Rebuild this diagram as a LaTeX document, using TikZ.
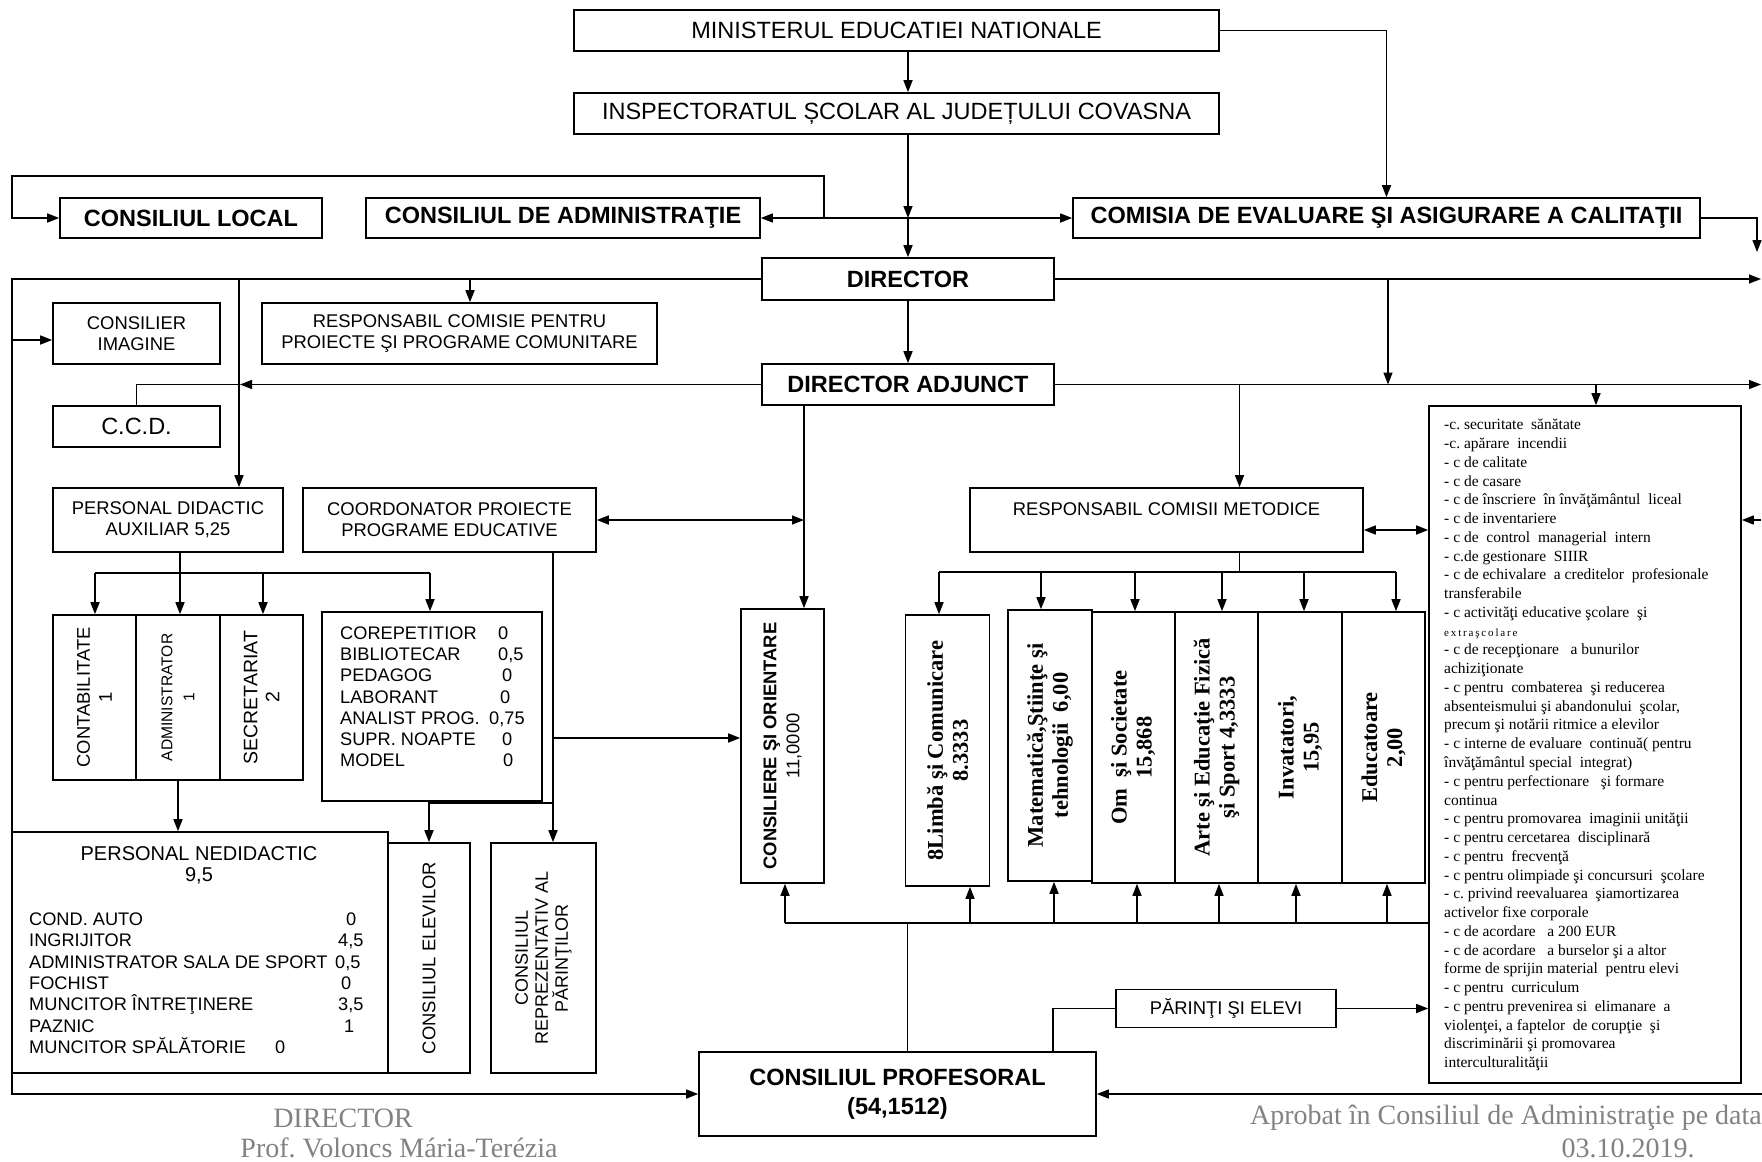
\documentclass[tikz,border=0pt]{standalone}
\usepackage{fontspec}
\setmainfont{Liberation Serif}
\setsansfont{Liberation Sans}
\newfontfamily\arialf{Liberation Sans}
\newfontfamily\timesf{Liberation Serif}
\usetikzlibrary{arrows.meta}
\definecolor{ftgray}{RGB}{130,130,130}
\newcommand{\fMain}{\arialf\fontsize{23.5}{27}\selectfont}
\newcommand{\fBold}{\arialf\bfseries\fontsize{23.5}{29}\selectfont}
\newcommand{\fSm}{\arialf\fontsize{18.4}{21}\selectfont}
\newcommand{\fLs}{\arialf\fontsize{18.2}{21}\selectfont}
\newcommand{\fTb}{\timesf\bfseries\fontsize{22.5}{25}\selectfont}
\newcommand{\fList}{\timesf\fontsize{15.5}{18.76}\selectfont}
\newcommand{\fFoot}{\timesf\fontsize{28}{30}\selectfont}
\begin{document}
\frenchspacing
\begin{tikzpicture}[x=1pt,y=-1pt,
  box/.style={draw, line width=1.6pt, inner sep=0pt, align=center},
  arr/.style={line width=1.5pt, -{Triangle[length=12pt,width=9pt]}},
  darr/.style={line width=1.5pt, {Triangle[length=12pt,width=9pt]}-{Triangle[length=12pt,width=9pt]}},
  ln/.style={line width=1.5pt},
  rot/.style={rotate=90, align=center, inner sep=0pt},
  txt/.style={inner sep=0pt, align=center}]
\fill[white] (0,0) rectangle (1762,1162);
\useasboundingbox (0,0) rectangle (1762,1162);

% ---------- boxes ----------
\node[box, minimum width=645pt, minimum height=41pt, font=\fMain] (MIN) at (896.5,30.5) {MINISTERUL EDUCATIEI NATIONALE};
\node[box, minimum width=645pt, minimum height=41pt, font=\fMain] (INSP) at (896.5,113.5) {INSPECTORATUL ȘCOLAR AL JUDEȚULUI COVASNA};
\node[box, minimum width=262pt, minimum height=40pt, font=\fBold] (CL) at (191,218) {CONSILIUL LOCAL};
\node[box, minimum width=394pt, minimum height=40pt, font=\fBold] (CA) at (563,218) {CONSILIUL DE ADMINISTRAŢIE};
\node[box, minimum width=627pt, minimum height=40pt, font=\fBold] (COM) at (1386.5,218) {COMISIA DE EVALUARE ŞI ASIGURARE A CALITAŢII};
\node[box, minimum width=292pt, minimum height=42pt, font=\fBold] (DIR) at (908,279) {DIRECTOR};
\node[box, minimum width=167pt, minimum height=61pt, font=\fSm] (CI) at (136.5,333.5) {CONSILIER\\IMAGINE};
\node[box, minimum width=395pt, minimum height=61pt, font=\fSm] (RC) at (459.5,333.5) {RESPONSABIL COMISIE PENTRU\\PROIECTE ŞI PROGRAME COMUNITARE};
\node[box, minimum width=292pt, minimum height=41pt, font=\fBold] (DA) at (908,384.5) {DIRECTOR ADJUNCT};
\node[box, minimum width=167pt, minimum height=41pt, font=\fMain] (CCD) at (136.5,426.5) {C.C.D.};
\node[box, minimum width=230pt, minimum height=64pt, font=\fSm] (PDA) at (168,520) {PERSONAL DIDACTIC\\AUXILIAR 5,25};
\node[box, minimum width=293pt, minimum height=64pt, font=\fSm] (CPP) at (449.5,520) {COORDONATOR PROIECTE\\PROGRAME EDUCATIVE};
\node[box, minimum width=393pt, minimum height=64pt] (RCM) at (1166.5,520) {};
\node[txt, font=\fSm] (RCMt) at (1166.5,509) {RESPONSABIL COMISII METODICE};

% list box
\node[box, minimum width=312pt, minimum height=677pt] (LST) at (1585,744.5) {};
\node[inner sep=0pt, align=left, anchor=north west, font=\fList] (LSTt) at (1444,419) {%
-c. securitate\ \ sănătate\\
-c. apărare\ \ incendii\\
- c de calitate\\
- c de casare\\
- c de înscriere\ \ în învăţământul\ \ liceal\\
- c de inventariere\\
- c de\ \ control\ \ managerial\ \ intern\\
- c.de gestionare\ \ SIIIR\\
- c de echivalare\ \ a creditelor\ \ profesionale\\
transferabile\\
- c activităţi educative şcolare\ \ şi\\
{\fontsize{11}{18.76}\selectfont e\,x\,t\,r\,a\,ş\,c\,o\,l\,a\,r\,e}\\
- c de recepţionare\ \ \ a bunurilor\\
achiziţionate\\
- c pentru\ \ combaterea\ \ şi reducerea\\
absenteismului şi abandonului\ \ şcolar,\\
precum şi notării ritmice a elevilor\\
- c interne de evaluare\ \ continuă( pentru\\
învăţământul special\ \ integrat)\\
- c pentru perfectionare\ \ \ şi formare\\
continua\\
- c pentru promovarea\ \ imaginii unităţii\\
- c pentru cercetarea\ \ disciplinară\\
- c pentru\ \ frecvenţă\\
- c pentru olimpiade şi concursuri\ \ şcolare\\
- c. privind reevaluarea\ \ şiamortizarea\\
activelor fixe corporale\\
- c de acordare\ \ \ a 200 EUR\\
- c de acordare\ \ \ a burselor şi a altor\\
forme de sprijin material\ \ pentru elevi\\
- c pentru\ \ curriculum\\
- c pentru prevenirea si\ \ elimanare\ \ a\\
violenţei, a faptelor\ \ de corupţie\ \ şi\\
discriminării şi promovarea\\
interculturalităţii};

% CONTAB group
\node[box, minimum width=83.5pt, minimum height=165pt] (CB1) at (94.5,697.5) {};
\node[box, minimum width=83.5pt, minimum height=165pt] (CB2) at (178,697.5) {};
\node[box, minimum width=83.5pt, minimum height=165pt] (CB3) at (261.5,697.5) {};
\node[rot, font=\arialf\fontsize{18.4}{22}\selectfont] (CB1t) at (CB1) {CONTABILITATE\\1};
\node[rot, font=\arialf\fontsize{15.6}{22}\selectfont] (CB2t) at (CB2) {ADMINISTRATOR\\1};
\node[rot, font=\arialf\fontsize{19.5}{22}\selectfont] (CB3t) at (CB3) {SECRETARIAT\\2};

% COREPETITIOR
\node[box, minimum width=220pt, minimum height=189pt] (CO) at (432,706.5) {};
\foreach \i/\nm/\nx/\nv in {1/COREPETITIOR/498/0,2/BIBLIOTECAR/498/{0,5},3/PEDAGOG/502/0,4/LABORANT/500/0,5/ANALIST PROG./489/{0,75},6/SUPR. NOAPTE/502/0,7/MODEL/503/0}{
  \node[anchor=base west, inner sep=0pt, font=\fLs] (cn\i) at (340,{639.5+21.2*(\i-1)}) {\nm};
  \node[anchor=base west, inner sep=0pt, font=\fLs] (cv\i) at (\nx,{639.5+21.2*(\i-1)}) {\nv};
}

% CONSILIERE
\node[box, minimum width=83pt, minimum height=274pt] (CSO) at (782.5,746) {};
\node[rot, font=\arialf\fontsize{18.4}{23}\selectfont] (CSOt) at (CSO) {\textbf{CONSILIERE ŞI ORIENTARE}\\11,0000};

% commissions
\node[box, minimum width=84pt, minimum height=271pt] (LIM) at (947.5,750.5) {};
\node[box, minimum width=84pt, minimum height=271pt] (MAT) at (1050,745.5) {};
\node[box, minimum width=83pt, minimum height=271pt] (OM) at (1133,747.5) {};
\node[box, minimum width=83pt, minimum height=271pt] (ART) at (1216.5,747.5) {};
\node[box, minimum width=83pt, minimum height=271pt] (INV) at (1300,747.5) {};
\node[box, minimum width=83pt, minimum height=271pt] (EDU) at (1383.5,747.5) {};
\node[rot, font=\fTb] (LIMt) at (LIM) {8Limbă şi Comunicare\\8.3333};
\node[rot, font=\fTb] (MATt) at (MAT) {Matematică,Ştiinţe şi\\tehnologii\ \ 6,00};
\node[rot, font=\fTb] (OMt) at (OM) {Om\ \ şi Societate\\15,868};
\node[rot, font=\fTb] (ARTt) at (ART) {Arte şi Educaţie Fizică\\şi Sport 4,3333};
\node[rot, font=\fTb] (INVt) at (INV) {Invatatori,\\15,95};
\node[rot, font=\fTb] (EDUt) at (EDU) {Educatoare\\2,00};

% personal nedidactic
\node[box, minimum width=376pt, minimum height=241pt] (PN) at (200,952.5) {};
\node[txt, font=\arialf\fontsize{20}{21}\selectfont] (PNt) at (199,865.5) {PERSONAL NEDIDACTIC\\9,5};
\foreach \i/\nm/\nx/\nv in {1/COND. AUTO/346/0,2/INGRIJITOR/338/{4,5},3/ADMINISTRATOR SALA DE SPORT/335/{0,5},4/FOCHIST/341/0,5/MUNCITOR ÎNTREŢINERE/338/{3,5},6/PAZNIC/344/1,7/MUNCITOR SPĂLĂTORIE/275/0}{
  \node[anchor=base west, inner sep=0pt, font=\fLs] (pn\i) at (29,{925.5+21.3*(\i-1)}) {\nm};
  \node[anchor=base west, inner sep=0pt, font=\fLs] (pv\i) at (\nx,{925.5+21.3*(\i-1)}) {\nv};
}
\node[box, minimum width=82pt, minimum height=230pt] (CE) at (429,958) {};
\node[rot, font=\fSm] (CEt) at (CE) {CONSILIUL ELEVILOR};
\node[box, minimum width=105pt, minimum height=230pt] (CR) at (543.5,958) {};
\node[rot, font=\arialf\fontsize{18}{20}\selectfont] (CRt) at (CR) {CONSILIUL\\REPREZENTATIV AL\\PĂRINŢILOR};

\node[box, minimum width=220pt, minimum height=38pt, font=\fSm] (PE) at (1226,1008.5) {PĂRINŢI ŞI ELEVI};
\node[box, minimum width=397pt, minimum height=84pt, font=\arialf\bfseries\fontsize{23.5}{29}\selectfont] (CPR) at (897.5,1094) {CONSILIUL PROFESORAL\\(54,1512)};

% footer
\node[txt, font=\fFoot, text=ftgray] (FD) at (343,1118) {DIRECTOR};
\node[txt, font=\fFoot, text=ftgray] (FP) at (399,1148) {Prof. Voloncs Mária-Terézia};
\node[txt, font=\fFoot, text=ftgray, anchor=east] (FA) at (1762,1118) {Aprobat în Consiliul de Administraţie pe data};
\node[txt, font=\fFoot, text=ftgray] (FDt) at (1628,1148) {03.10.2019.};

% ---------- connectors ----------
\draw[arr] (MIN.south -| DIR.north) -- (INSP.north -| DIR.north);
\draw[arr] (MIN.east) -| (COM.north);
\coordinate (x1) at (CA.east -| DIR.north);
\draw[arr] (INSP.south -| DIR.north) -- (x1);
\draw[arr] (x1) -- (DIR.north);
\draw[darr] (CA.east) -- (COM.west);
\coordinate (b1) at (824,218);
\coordinate (b2) at (824,176);
\coordinate (b3) at (12,176);
\coordinate (b4) at (12,218);
\draw[arr] (b1) -- (b2) -- (b3) -- (b4) -- (CL.west);
\coordinate (r1) at (1757,218);
\coordinate (r2) at (1757,252);
\draw[arr] (COM.east) -- (r1) -- (r2);
\coordinate (r3) at (1761,279);
\draw[arr] (DIR.east) -- (r3);
\coordinate (d1) at (1388,279);
\coordinate (d2) at (1388,384.5);
\draw[arr] (d1) -- (d2);
\draw[arr] (DIR.south) -- (DA.north);
\coordinate (r4) at (1761,384.5);
\draw[arr] (DA.east) -- (r4);
\coordinate (d3) at (1596,384.5);
\draw[arr] (d3) -- (d3 |- LST.north);
\coordinate (d4) at (1239.5,384.5);
\draw[arr] (d4) -- (d4 |- RCM.north);
\coordinate (d5) at (804,384.5);
\draw[arr] (d5 |- DA.south) -- (d5 |- CSO.north);

% left loop
\coordinate (l1) at (12,279);
\coordinate (l2) at (12,1094);
\draw[arr] (DIR.west) -- (l1) -- (l2) -- (CPR.west);
\coordinate (l3) at (239,279);
\draw[arr] (l3) -- (l3 |- PDA.north);
\coordinate (l4) at (470,279);
\draw[arr] (l4) -- (l4 |- RC.north);
\coordinate (l5) at (12,340);
\draw[arr] (l5) -- (l5 -| CI.west);
\coordinate (l6) at (240,384.5);
\draw[arr] (DA.west) -- (l6);
\draw[ln] (l6) -- (CCD.north |- l6) -- (CCD.north);

% coordinator
\coordinate (c1) at (804,520);
\draw[darr] (CPP.east) -- (c1);
\coordinate (c3) at (553,738);
\draw[arr] (CPP.south -| c3) -- (c3 |- CR.north);
\draw[arr] (c3) -- (c3 -| CSO.west);
\coordinate (c4) at (429,803);
\draw[arr] (CO.south -| c4) -- (c4 |- CE.north);
\draw[ln] (c4) -- (c4 -| c3);

% personal didactic auxiliar
\coordinate (p0) at (180,573);
\coordinate (p1) at (95,573);
\coordinate (p3) at (263,573);
\coordinate (p4) at (430,573);
\draw[ln] (PDA.south -| p0) -- (p0);
\draw[ln] (p1) -- (p4);
\draw[arr] (p1) -- (p1 |- CB1.north);
\draw[arr] (p0) -- (p0 |- CB2.north);
\draw[arr] (p3) -- (p3 |- CB3.north);
\draw[arr] (p4) -- (p4 |- CO.north);
\draw[arr] (CB2.south) -- (CB2.south |- PN.north);

% methodical commissions
\coordinate (m0) at (1239.5,572);
\coordinate (m1) at (939,572);
\coordinate (m6) at (1396,572);
\draw[ln] (RCM.south -| m0) -- (m0);
\draw[ln] (m1) -- (m6);
\foreach \xx/\bb in {939/LIM,1041/MAT,1135/OM,1222/ART,1304/INV,1396/EDU}{
  \coordinate (tq) at (\xx,572);
  \draw[arr] (tq) -- (tq |- \bb.north);
}
\coordinate (y530) at (0,530);
\draw[darr] (RCM.east |- y530) -- (LST.west |- y530);
\coordinate (e1) at (1761,520);
\draw[arr] (e1) -- (e1 -| LST.east);

% bottom
\coordinate (h0) at (785,923);
\draw[ln] (h0) -- (h0 -| LST.west);
\draw[arr] (h0) -- (h0 |- CSO.south);
\foreach \xx/\bb in {970/LIM,1054/MAT,1137/OM,1219/ART,1296/INV,1387/EDU}{
  \coordinate (tq) at (\xx,923);
  \draw[arr] (tq) -- (tq |- \bb.south);
}
\coordinate (h2) at (907.5,923);
\draw[ln] (CPR.north -| h2) -- (h2);
\coordinate (h3) at (1053,1008.5);
\draw[ln] (CPR.north -| h3) -- (h3) -- (PE.west);
\draw[arr] (PE.east) -- (PE.east -| LST.west);
\coordinate (e2) at (1762,1094);
\draw[arr] (e2) -- (CPR.east);
\end{tikzpicture}
\end{document}
